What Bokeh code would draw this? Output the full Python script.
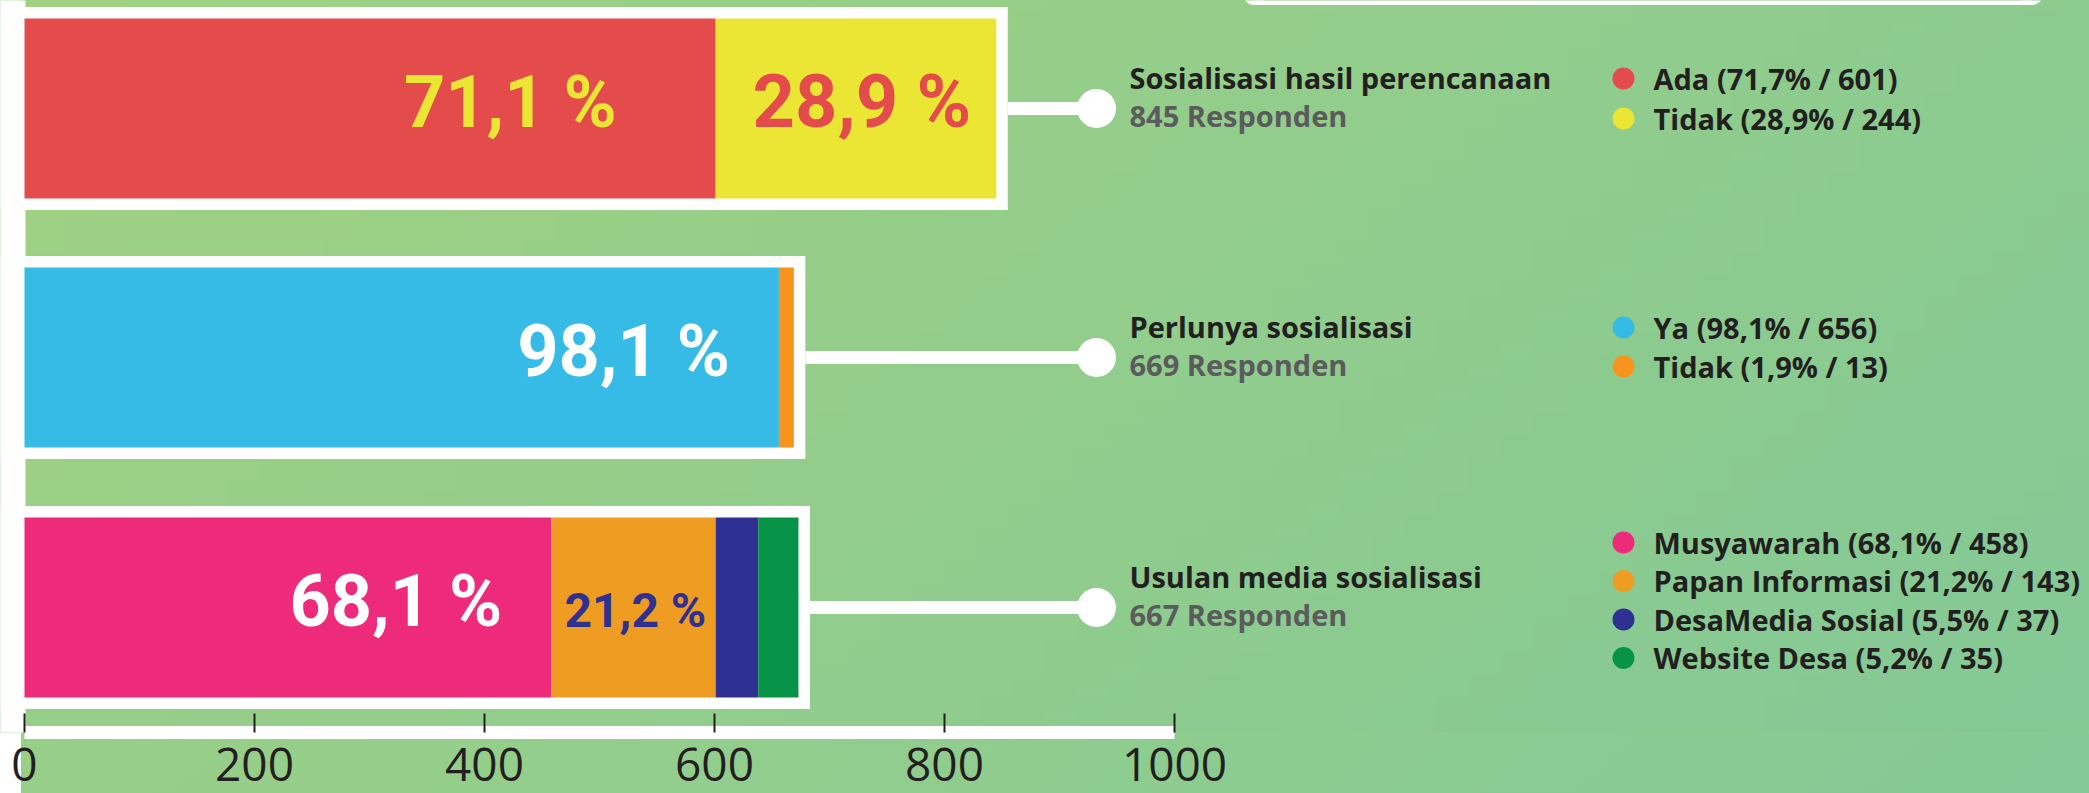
import numpy as np
from bokeh.plotting import figure
from bokeh.models import Range1d, FixedTicker
from bokeh.embed import file_html
from bokeh.resources import INLINE
from bokeh.core.properties import value

# ---------------- data ----------------
questions = ["Sosialisasi hasil perencanaan", "Perlunya sosialisasi", "Usulan media sosialisasi"]
respondents = [845, 669, 667]

q1_options = ["Ada", "Tidak"]
q1_counts = [601, 244]
q1_pct = ["71,7%", "28,9%"]
q1_bar_labels = ["71,1 %", "28,9 %"]

q2_options = ["Ya", "Tidak"]
q2_counts = [656, 13]
q2_pct = ["98,1%", "1,9%"]
q2_bar_labels = ["98,1 %", ""]

q3_options = ["Musyawarah", "Papan Informasi", "DesaMedia Sosial", "Website Desa"]
q3_counts = [458, 143, 37, 35]
q3_pct = ["68,1%", "21,2%", "5,5%", "5,2%"]
q3_bar_labels = ["68,1 %", "21,2 %", "", ""]

x_ticks = [0, 200, 400, 600, 800, 1000]

# ---------------- styles / layout ----------------
q1_colors = ["#e44c4c", "#ebe534"]
q2_colors = ["#35bbe5", "#f7941d"]
q3_colors = ["#ee2a7b", "#ef9c22", "#2e3192", "#079347"]
q1_label_colors = ["#ebe534", "#e44c4c"]
q2_label_colors = ["white", "white"]
q3_label_colors = ["white", "#2e3192", "white", "white"]
# (align, x offset px, font size) for each in-bar label
q1_label_style = [("right", -99, 72), ("center", 6, 74)]
q2_label_style = [("right", -49, 72), ("center", 0, 72)]
q3_label_style = [("right", -49, 72), ("center", 2, 48), ("center", 0, 40), ("center", 0, 40)]

TEXT_DARK = "#231f20"
TEXT_GRAY = "#5b5b5d"
FONT = "Roboto"
SMALL_FONT = "Open Sans"
SMALL_FS = 29

W, H = 2089, 793
FRAME_H = 732
X0_PX = 24.0
PX_PER_UNIT = 1.15


def px2x(px):
    return (px - X0_PX) / PX_PER_UNIT


def base_fix(fs):
    # lift text so that its baseline lands on the wanted pixel row
    return 0.35 * fs + 2


bar_centers = [108, 357, 607]
BAR_H = 180
FRAME_PAD = 11.5
CONNECT_PX = 1096
TITLE_PX = 1129
DOT_PX = 1623
LEGEND_TEXT_PX = 1653
SMALL_SHIFT = 2
legend_first_row = [-30, -30, -65]
legend_row_step = [40, 39, 38.5]

p = figure(width=W, height=H,
           x_range=Range1d(px2x(0), px2x(W)),
           y_range=Range1d(FRAME_H, 0),
           output_backend="svg", toolbar_location=None,
           min_border_left=0, min_border_right=0, min_border_top=0,
           min_border_bottom=H - FRAME_H,
           y_axis_location=None,
           outline_line_color=None,
           background_fill_color="#98cf89",
           border_fill_color="#8fcc8d",
           border_fill_alpha=0)
p.styles = {"background": "linear-gradient(to right, #ffffff 21px, rgba(255,255,255,0) 21px), "
                          "linear-gradient(138deg, #a1d282 0%, #84c996 100%)"}
p.grid.visible = False

# gradient background (decoration)
n = 64
gx, gy = np.meshgrid(np.linspace(0, 1, n), np.linspace(0, 1, n))
t = 0.7 * gx + 0.3 * gy
c0 = np.array([161, 210, 130])
c1 = np.array([132, 201, 150])
img = np.empty((n, n), dtype=np.uint32)
view = img.view(dtype=np.uint8).reshape((n, n, 4))
for k in range(3):
    view[:, :, k] = (c0[k] + (c1[k] - c0[k]) * t).astype(np.uint8)
view[:, :, 3] = 255
p.image_rgba(image=[img], x=px2x(0), y=0, dw=px2x(W) - px2x(0), dh=FRAME_H)

# white left margin
p.quad(left=px2x(-10), right=px2x(25), top=-10, bottom=FRAME_H + 10,
       fill_color="white", line_color=None)

# white rounded box peeking at top
p.quad(left=px2x(1254), right=px2x(2031), top=-20, bottom=4.5, fill_color="white", line_color=None)
p.quad(left=px2x(1242), right=px2x(2043), top=-20, bottom=-7.5, fill_color="white", line_color=None)
p.scatter(x=[px2x(1254), px2x(2031)], y=[-7.5, -7.5], size=24, marker="circle",
          fill_color="white", line_color=None)

all_counts = [q1_counts, q2_counts, q3_counts]
all_options = [q1_options, q2_options, q3_options]
all_pct = [q1_pct, q2_pct, q3_pct]
all_bar_labels = [q1_bar_labels, q2_bar_labels, q3_bar_labels]
all_colors = [q1_colors, q2_colors, q3_colors]
all_label_colors = [q1_label_colors, q2_label_colors, q3_label_colors]
all_label_style = [q1_label_style, q2_label_style, q3_label_style]

for qi, counts in enumerate(all_counts):
    yc = bar_centers[qi]
    total = sum(counts)
    right_edge = total + FRAME_PAD / PX_PER_UNIT
    # white frame
    p.hbar(y=[yc], left=[px2x(-10)], right=[right_edge], height=BAR_H + 2 * FRAME_PAD,
           fill_color="white", line_color=None)
    # connector + dot
    p.segment(x0=[right_edge], y0=[yc], x1=[px2x(CONNECT_PX)], y1=[yc],
              line_color="white", line_width=13)
    p.scatter(x=[px2x(CONNECT_PX)], y=[yc], size=39, marker="circle",
              fill_color="white", line_color=None)
    # stacked segments
    lefts = np.concatenate([[0], np.cumsum(counts)[:-1]])
    rights = np.cumsum(counts)
    p.hbar(y=[yc] * len(counts), left=lefts, right=rights, height=BAR_H,
           fill_color=all_colors[qi], line_color=None)
    # in-bar labels
    for si, lab in enumerate(all_bar_labels[qi]):
        if not lab:
            continue
        align, off, fs = all_label_style[qi][si]
        xpos = rights[si] if align == "right" else (lefts[si] + rights[si]) / 2
        base = yc + (21 if fs > 60 else 22)
        p.text(x=[xpos], y=[base - base_fix(fs)], text=[lab],
               text_align=align, x_offset=off, text_baseline="alphabetic",
               text_color=all_label_colors[qi][si], text_font=value(FONT),
               text_font_style="bold", text_font_size=f"{fs}px")
    # titles
    p.text(x=[px2x(TITLE_PX)], y=[yc - 21 + SMALL_SHIFT - base_fix(SMALL_FS)], text=[questions[qi]],
           text_align="left", text_baseline="alphabetic", text_color=TEXT_DARK,
           text_font=value(SMALL_FONT), text_font_style="bold", text_font_size=f"{SMALL_FS}px")
    p.text(x=[px2x(TITLE_PX)], y=[yc + 17 + SMALL_SHIFT - base_fix(SMALL_FS)],
           text=[f"{respondents[qi]} Responden"],
           text_align="left", text_baseline="alphabetic", text_color=TEXT_GRAY,
           text_font=value(SMALL_FONT), text_font_style="bold", text_font_size=f"{SMALL_FS}px")
    # legend
    for li, opt in enumerate(all_options[qi]):
        ly = yc + legend_first_row[qi] + li * legend_row_step[qi]
        p.scatter(x=[px2x(DOT_PX)], y=[ly], size=22, marker="circle",
                  fill_color=all_colors[qi][li], line_color=None)
        p.text(x=[px2x(LEGEND_TEXT_PX)], y=[ly + 10 + SMALL_SHIFT - base_fix(SMALL_FS)],
               text=[f"{opt} ({all_pct[qi][li]} / {counts[li]})"],
               text_align="left", text_baseline="alphabetic", text_color=TEXT_DARK,
               text_font=value(SMALL_FONT), text_font_style="bold", text_font_size=f"{SMALL_FS}px")

# axis
ax = p.xaxis[0]
ax.ticker = FixedTicker(ticks=x_ticks)
ax.bounds = (0, 1000)
ax.axis_line_color = "white"
ax.axis_line_width = 13
ax.major_tick_line_color = TEXT_DARK
ax.major_tick_line_width = 2
ax.major_tick_in = 19
ax.major_tick_out = 0
ax.minor_tick_line_color = None
ax.major_label_text_font = "Open Sans"
ax.major_label_text_font_size = "46px"
ax.major_label_text_color = TEXT_DARK
ax.major_label_standoff = 15

open("out.html", "w").write(file_html(p, INLINE))
